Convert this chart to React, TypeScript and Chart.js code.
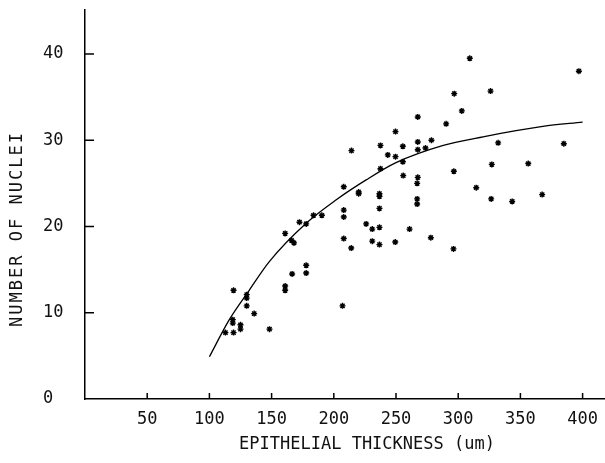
import React, { useEffect, useRef } from 'react';
import { Chart, registerables } from 'chart.js';

Chart.register(...registerables);

// Scatter measurements (epithelial thickness in um, number of nuclei)
const thicknessUm = [
  208, 208, 208, 208, 207, 190.4, 183.7, 177.8, 172.4, 166, 168, 160.9, 177.8, 177.8, 166.5,
  160.9, 160.9, 148.3, 136, 130, 130, 130, 119.4, 118.8, 118.8, 119.4, 112.9, 125, 125,
  220, 220, 236.7, 236.7, 267, 267, 267, 314.5, 326.5, 343.4, 367.5, 214, 226, 230.9, 236.7,
  236.7, 230.9, 236.7, 249.4, 260.9, 278, 296.2,
  309.3, 397, 326, 296.8, 302.9, 267.5, 290.3, 249.6, 237.5, 255.5, 267.5, 278.5, 267.5,
  273.7, 214.2, 243.4, 249.6, 255.5, 237.5, 332.1, 384.9, 296.5, 327, 356.3, 255.8, 267.5,
];
const nucleiCount = [
  24.6, 21.9, 21.1, 18.6, 10.8, 21.3, 21.3, 20.3, 20.5, 18.4, 18.1, 19.2, 15.5, 14.6, 14.5,
  13.1, 12.6, 8.1, 9.9, 12.1, 11.7, 10.8, 12.6, 9.2, 8.8, 7.7, 7.7, 8.6, 8.1,
  24.0, 23.8, 23.8, 23.5, 25.0, 23.2, 22.6, 24.5, 23.2, 22.9, 23.7, 17.5, 20.3, 19.7, 22.1,
  19.9, 18.3, 17.9, 18.2, 19.7, 18.7, 17.4,
  39.5, 38.0, 35.7, 35.4, 33.4, 32.7, 31.9, 31.0, 29.4, 29.3, 29.8, 30.0, 28.9,
  29.1, 28.8, 28.3, 28.1, 27.5, 26.7, 29.7, 29.6, 26.4, 27.2, 27.3, 25.9, 25.7,
];

// Fitted curve
const curveThickness = [100, 116, 132, 148, 178, 202, 226, 250, 288, 320, 368, 400];
const curveNuclei = [4.9, 9.2, 12.6, 15.9, 20.4, 23.1, 25.4, 27.4, 29.4, 30.4, 31.6, 32.1];

const xTickValues = [50, 100, 150, 200, 250, 300, 350, 400];
const yTickValues = [0, 10, 20, 30, 40];

const xTitle = 'EPITHELIAL THICKNESS (um)';
const yTitle = 'NUMBER OF NUCLEI';

const FONT = '"DejaVu Sans Mono", monospace';

const decorPlugin = {
  id: 'decor',
  afterDraw(chart: any) {
    const ctx = chart.ctx;
    const xs = chart.scales.x;
    const ys = chart.scales.y;
    ctx.save();
    ctx.strokeStyle = '#000';
    ctx.lineWidth = 1.5;
    xs.ticks.forEach((t: any) => {
      const px = xs.getPixelForValue(t.value);
      ctx.beginPath();
      ctx.moveTo(px, ys.bottom);
      ctx.lineTo(px, ys.bottom - 6);
      ctx.stroke();
    });
    ys.ticks.forEach((t: any) => {
      if (t.value === 0) return;
      const py = ys.getPixelForValue(t.value);
      ctx.beginPath();
      ctx.moveTo(xs.left - 1, py);
      ctx.lineTo(xs.left + 9, py);
      ctx.stroke();
    });
    ctx.fillStyle = '#111';
    ctx.font = '17px ' + FONT;
    ctx.textAlign = 'center';
    ctx.textBaseline = 'middle';
    ctx.fillText(xTitle, 367, 445);
    ctx.translate(18, 229);
    ctx.rotate(-Math.PI / 2);
    (ctx as any).letterSpacing = '2px';
    ctx.fillText(yTitle, 0, 0);
    ctx.restore();
  },
};

export default function App() {
  const ref = useRef<HTMLCanvasElement | null>(null);

  useEffect(() => {
    if (!ref.current) return;
    const scatterData = thicknessUm.map((x, i) => ({ x, y: nucleiCount[i] }));
    const curveData = curveThickness.map((x, i) => ({ x, y: curveNuclei[i] }));
    const chart = new Chart(ref.current, {
      type: 'scatter',
      data: {
        datasets: [
          {
            label: 'Observed',
            data: scatterData,
            pointStyle: 'star',
            pointRadius: 3,
            borderColor: '#000',
            backgroundColor: '#000',
            borderWidth: 1.4,
          },
          {
            label: 'Fit',
            data: curveData,
            showLine: true,
            pointRadius: 0,
            borderColor: '#000',
            borderWidth: 1.3,
            cubicInterpolationMode: 'monotone',
            fill: false,
          } as any,
        ],
      },
      options: {
        responsive: false,
        animation: false,
        layout: { autoPadding: false, padding: { left: 43, top: 10, right: 0, bottom: 0 } },
        plugins: {
          legend: { display: false },
          tooltip: { enabled: false },
        },
        scales: {
          x: {
            type: 'linear',
            min: 0,
            max: 418,
            grid: { display: false, drawTicks: false },
            border: { display: true, color: '#000', width: 1.5 },
            afterBuildTicks: (scale: any) => {
              scale.ticks = xTickValues.map((v) => ({ value: v }));
            },
            afterFit: (scale: any) => {
              scale.height = 64;
              scale.paddingLeft = 0;
              scale.paddingRight = 0;
            },
            ticks: {
              color: '#111',
              font: { family: FONT, size: 17 },
              padding: 10,
              maxRotation: 0,
              autoSkip: false,
            },
          },
          y: {
            type: 'linear',
            min: 0,
            max: 45.1,
            grid: { display: false, drawTicks: false },
            border: { display: true, color: '#000', width: 1.5 },
            afterBuildTicks: (scale: any) => {
              scale.ticks = yTickValues.map((v) => ({ value: v }));
            },
            afterFit: (scale: any) => {
              scale.width = 42;
              scale.paddingTop = 0;
              scale.paddingBottom = 0;
            },
            ticks: {
              color: '#111',
              font: { family: FONT, size: 17 },
              crossAlign: 'far',
              autoSkip: false,
            },
          },
        },
      },
      plugins: [decorPlugin],
    });
    return () => chart.destroy();
  }, []);

  return (
    <div style={{ position: 'fixed', left: 0, top: 0, width: 605, height: 463, background: '#fff' }}>
      <canvas ref={ref} width={605} height={463} style={{ display: 'block' }} />
    </div>
  );
}
